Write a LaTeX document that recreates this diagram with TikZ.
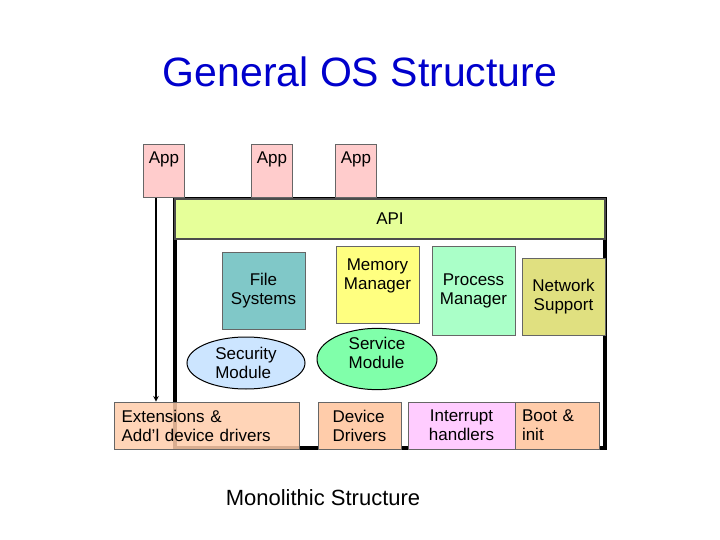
\documentclass[tikz,border=0pt]{standalone}
\usepackage{fontspec}
\setmainfont{Liberation Sans}
\usetikzlibrary{shapes.geometric}
\definecolor{apiC}{RGB}{230,255,153}
\definecolor{fsC}{RGB}{128,200,200}
\definecolor{memC}{RGB}{255,255,128}
\definecolor{procC}{RGB}{170,255,200}
\definecolor{netC}{RGB}{224,224,128}
\definecolor{secC}{RGB}{204,229,255}
\definecolor{svcC}{RGB}{128,255,170}
\definecolor{drvC}{RGB}{255,204,170}
\definecolor{irqC}{RGB}{255,204,255}
\definecolor{appC}{RGB}{255,204,204}
\begin{document}
\begin{tikzpicture}[x=1pt, y=-1pt, >=stealth,
    box/.style={draw=black!60, line width=0.8pt, inner sep=1pt, align=center,
      font=\fontsize{17}{19}\selectfont},
    oval/.style={ellipse, draw=black, line width=1pt, inner sep=0pt, align=left,
      font=\fontsize{17}{19}\selectfont}]
  \useasboundingbox (0,0) rectangle (720,540);

  % Title
  \node[text=blue!80!black, font=\fontsize{41}{46}\selectfont] (title) at (360,72)
    {General OS Structure};

  % Kernel frame
  \draw[line width=3.5pt] (175,199) rectangle (605,448);
  \node[box, fill=apiC, draw=black!70, minimum width=430pt,
    minimum height=40pt, line width=1.5pt] (api) at (390,219) {API};

  % Applications
  \foreach \x/\name in {164/app1, 272/app2, 356/app3} {
    \node[box, fill=appC, anchor=north, minimum width=41pt, minimum height=53pt,
      text depth=26pt] (\name) at (\x,144) {App};
  }

  % Kernel modules
  \node[box, fill=fsC, minimum width=83pt, minimum height=77pt]
    (fs) at (263.5,290.5) {File\\Systems};
  \node[box, fill=memC, minimum width=83pt, minimum height=77pt, text depth=20pt]
    (mem) at (377.5,284.5) {Memory\\Manager};
  \node[box, fill=procC, minimum width=83pt, minimum height=89pt]
    (proc) at (473.5,290.5) {Process\\Manager};
  \node[box, fill=netC, minimum width=83pt, minimum height=77pt]
    (net) at (563.5,296.5) {Network\\Support};

  \node[oval, fill=secC, minimum width=118pt, minimum height=52pt]
    (sec) at (246,363) {Security\\Module};
  \node[oval, fill=svcC, minimum width=120pt, minimum height=58pt, text depth=12pt]
    (svc) at (377,359) {Service\\Module};

  % Drivers row
  \node[box, fill=drvC, fill opacity=0.85, text opacity=1, align=left,
    minimum width=185pt, minimum height=47pt, text width=170pt] (ext) at (206.5,425.5)
    {Extensions \&\\Add'l device drivers};
  \node[box, fill=drvC, align=left, minimum width=83pt, minimum height=47pt]
    (dev) at (359.5,425.5) {Device\\Drivers};
  \node[box, fill=irqC, minimum width=107pt, minimum height=47pt]
    (irq) at (461.5,425.5) {Interrupt\\handlers};
  \node[box, fill=drvC, align=left, minimum width=84pt, minimum height=47pt,
    text width=70pt] (boot) at (557,425.5) {Boot \&\\init};

  \draw[->, line width=1.5pt] (app1.south -| 156,0) -- (ext.north -| 156,0);

  \node[font=\fontsize{22}{26}\selectfont] (mono) at (323,498) {Monolithic Structure};
\end{tikzpicture}
\end{document}
